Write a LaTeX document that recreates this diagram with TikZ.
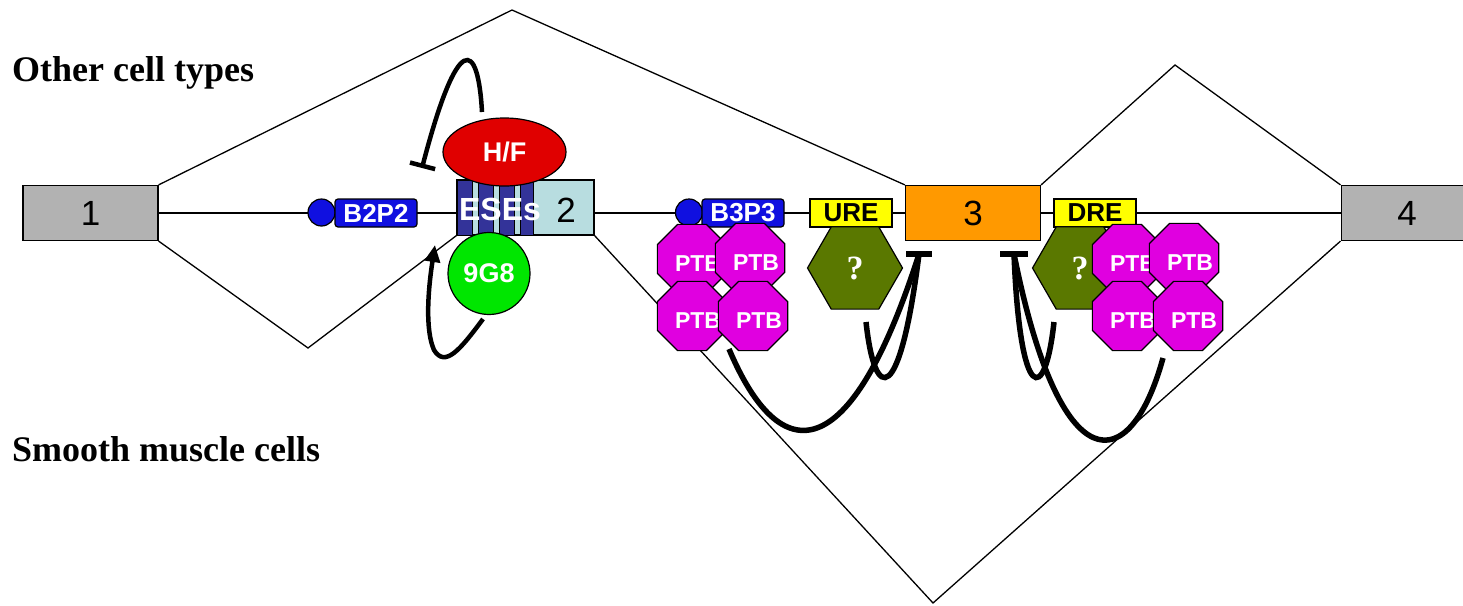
\documentclass[tikz,border=0pt]{standalone}
\usepackage{fontspec}
\setmainfont{Liberation Sans}
\newfontfamily\lblserif{Liberation Serif}
\usetikzlibrary{shapes.geometric,arrows.meta}
\pgfdeclarelayer{background}
\pgfsetlayers{background,main}
\definecolor{exgray}{RGB}{178,178,178}
\definecolor{exlblue}{RGB}{184,221,224}
\definecolor{exdblue}{RGB}{51,51,153}
\definecolor{exorange}{RGB}{255,153,0}
\definecolor{bblue}{RGB}{16,16,224}
\definecolor{hfred}{RGB}{224,0,0}
\definecolor{ggreen}{RGB}{0,230,0}
\definecolor{ptbmag}{RGB}{224,0,224}
\definecolor{olive}{RGB}{90,120,0}
\definecolor{yel}{RGB}{255,255,0}
\tikzset{
  fs/.style={font=\fontsize{#1}{#1}\selectfont},
  exon/.style={draw, line width=1.2pt, inner sep=0pt, fs=35},
  thin/.style={line width=1.3pt},
  bx/.style={draw, line width=1.2pt, inner sep=0pt, font=\fontsize{26}{26}\selectfont\bfseries},
  bluebox/.style={bx, fill=bblue, rounded corners=3pt, text=white, minimum width=82pt, minimum height=28pt},
  bdot/.style={draw, line width=1.2pt, circle, fill=bblue, minimum size=27pt, inner sep=0pt},
  ylw/.style={bx, fill=yel, minimum width=82pt, minimum height=28pt},
  ptb/.style={draw, line width=1.2pt, regular polygon, regular polygon sides=8, minimum size=75pt, inner sep=0pt, fill=ptbmag,
    label={[xshift=6pt, yshift=-5pt, inner sep=0pt, text=white, font=\fontsize{23}{23}\selectfont\bfseries]center:PTB}},
  hexq/.style={draw, line width=1.2pt, regular polygon, regular polygon sides=6, minimum size=95pt, inner sep=0pt, fill=olive, text=white, font=\fontsize{34}{34}\selectfont\lblserif\bfseries},
  thick5/.style={line width=5.5pt},
  lbl/.style={anchor=base west, inner sep=0pt, font=\fontsize{36}{36}\selectfont\lblserif\bfseries},
}
\begin{document}
\begin{tikzpicture}[x=1pt,y=-1pt]
\useasboundingbox (0,0) rectangle (1463,605);
\clip (0,0) rectangle (1463,605);
% exons
\node[exon, fill=exgray, minimum width=135pt, minimum height=55pt] (e1) at (90.5,213) {1};
\node[exon, fill=exgray, minimum width=135pt, minimum height=55pt, anchor=west] (e4) at (1340.5,213) {};
\node[fs=35] (e4lbl) at (1407,213) {4};
\node[exon, fill=exorange, minimum width=135pt, minimum height=55pt] (e3) at (973,213) {3};
\node[exon, fill=exlblue, minimum width=137pt, minimum height=55pt] (e2) at (525.5,207.5) {};
\foreach \xa/\xb in {457/472, 478/493, 499/514, 520/533}
  \draw[fill=exdblue, line width=1pt] (\xa,180) rectangle (\xb,235);
\draw[line width=1.2pt] (e2.south west) rectangle (e2.north east);
\node[text=white, font=\fontsize{32}{32}\selectfont\bfseries] (ese) at (500,209) {ESEs};
\node[fs=35] (e2lbl) at (566,210) {2};
% splicing lines
\coordinate (pk1) at (512,10);
\coordinate (pk2) at (308,348);
\coordinate (pk3) at (933,603);
\coordinate (pk4) at (1175,65);
\begin{pgfonlayer}{background}
\draw[thin] (e1.east) -- (e4.west);
\draw[thin] (e1.north east) -- (pk1) -- (e3.north west);
\draw[thin] (e1.south east) -- (pk2) -- (e2.south west);
\draw[thin] (e2.south east) -- (pk3) -- (e4.south west);
\draw[thin] (e3.north east) -- (pk4) -- (e4.north west);
\end{pgfonlayer}
% B2P2
\node[bdot] (b2c) at (321.5,212.5) {};
\node[bluebox] (b2) at (376,213) {B2P2};
% H/F and 9G8
\node[draw, line width=1.2pt, ellipse, fill=hfred, minimum width=123pt, minimum height=68pt, inner sep=0pt, text=white, font=\fontsize{27}{27}\selectfont\bfseries] (hf) at (504.5,152) {H/F};
\node[draw, line width=1.2pt, circle, fill=ggreen, minimum size=82pt, inner sep=0pt, text=white, font=\fontsize{27}{27}\selectfont\bfseries] (g98) at (489,273.5) {9G8};
% B3P3
\node[bdot] (b3c) at (689,212.5) {};
\node[bluebox] (b3) at (743,213) {B3P3};
\node[ylw] (ure) at (851,213) {URE};
\node[ylw] (dre) at (1095,213) {DRE};
% PTB left
\node[ptb] (p1) at (692,259) {};
\node[ptb] (p2) at (750,258) {};
\node[ptb] (p3) at (692,316) {};
\node[ptb] (p4) at (753,316) {};
\node[hexq] (q1) at (855,268) {?};
% right
\node[hexq] (q2) at (1080,268) {?};
\node[ptb] (p5) at (1127,259) {};
\node[ptb] (p6) at (1184,258) {};
\node[ptb] (p7) at (1127,316) {};
\node[ptb] (p8) at (1188,316) {};
% regulation curves
\coordinate (hfs) at (482,112);
\coordinate (hft) at (422,168);
\draw[line width=4.5pt, -{Bar[width=26pt]}] (hfs) .. controls (478,40) and (458,30) .. (hft);
\coordinate (gs) at (483,319);
\coordinate (gm) at (434,350);
\coordinate (gt) at (435,245);
\draw[line width=4.5pt, -{Triangle[width=15pt,length=17pt]}] (gs) .. controls (460,350) and (445,368) .. (gm) .. controls (425,330) and (428,290) .. (gt);
\coordinate (barL) at (919,254);
\coordinate (barR) at (1014,254);
\draw[line width=6pt] ([xshift=-13pt]barL) -- ([xshift=13pt]barL);
\draw[line width=6pt] ([xshift=-14pt]barR) -- ([xshift=14pt]barR);
\coordinate (pA) at (729,349);
\coordinate (qA) at (866,322);
\coordinate (qB) at (1054,322);
\coordinate (pB) at (1163,358);
\draw[thick5] (pA) .. controls (780,470) and (850,470) .. (barL);
\draw[thick5] (qA) .. controls (875,405) and (900,405) .. (barL);
\draw[thick5] (qB) .. controls (1045,405) and (1020,405) .. (barR);
\draw[thick5] (pB) .. controls (1130,478) and (1060,485) .. (barR);
% labels
\node[lbl] (other) at (12,81) {Other cell types};
\node[lbl] (smooth) at (12,461) {Smooth muscle cells};
\end{tikzpicture}
\end{document}
